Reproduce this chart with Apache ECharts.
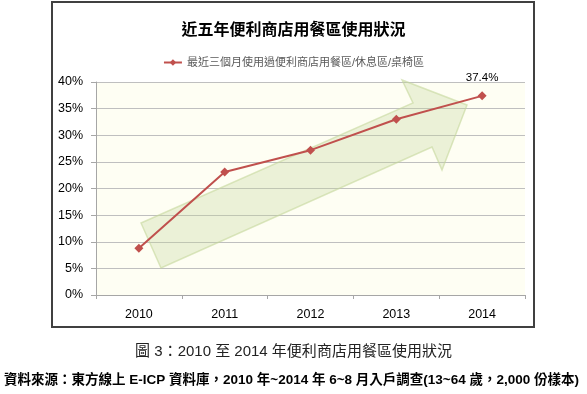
<!DOCTYPE html>
<html><head><meta charset="utf-8">
<script src="https://cdn.jsdelivr.net/npm/echarts@6/dist/echarts.min.js"></script>
<style>html,body{margin:0;padding:0;background:#fff}#c{width:587px;height:394px}</style>
</head><body><div id="c"></div>
<script>
const categories = ['2010','2011','2012','2013','2014'];
const seriesName = '最近三個月使用過便利商店用餐區/休息區/桌椅區';
const values = [8.8, 23.1, 27.2, 33.0, 37.4];
const yTicks = [0, 5, 10, 15, 20, 25, 30, 35, 40];
const chartTitle = '近五年便利商店用餐區使用狀況';
const caption = '圖 3：2010 至 2014 年便利商店用餐區使用狀況';
const sourceText = '資料來源：東方線上 E-ICP 資料庫，2010 年~2014 年 6~8 月入戶調查(13~64 歲，2,000 份樣本)';

const cjk = '"Liberation Sans", "Noto Sans CJK TC", sans-serif';
const chart = echarts.init(document.getElementById('c'), null, {renderer:'canvas'});
const lastIdx = values.length - 1;
chart.setOption({
  animation:false,
  backgroundColor:'#fff',
  title:{text:chartTitle,left:'center',top:18,textStyle:{fontFamily:cjk,fontSize:16,fontWeight:'bold',color:'#000'}},
  legend:{top:52,left:'center',itemWidth:18,itemHeight:8,itemGap:4,textStyle:{fontFamily:cjk,fontSize:11,color:'#595959'},data:[seriesName]},
  grid:{left:96,right:62,top:82,bottom:99,show:true,backgroundColor:'#FEFEF3',borderWidth:0},
  xAxis:{type:'category',data:categories,boundaryGap:true,
    axisLine:{lineStyle:{color:'#A6A6A6'}},
    axisTick:{show:true,length:4,lineStyle:{color:'#A6A6A6'}},
    axisLabel:{fontFamily:cjk,fontSize:12.5,color:'#000',margin:13}},
  yAxis:{type:'value',min:yTicks[0],max:yTicks[yTicks.length-1],interval:5,
    axisLine:{show:true,lineStyle:{color:'#A6A6A6'}},
    axisTick:{show:true,length:5,lineStyle:{color:'#A6A6A6'}},
    splitLine:{lineStyle:{color:'#BFBFBF'}},
    axisLabel:{fontFamily:cjk,fontSize:12.5,color:'#000',margin:13,formatter:v=>v+'%'}},
  graphic:[
    {type:'rect',shape:{x:52,y:2,width:482,height:325},style:{fill:'none',stroke:'#404040',lineWidth:2},z:-1},
    {type:'polygon',shape:{points:[[141,223],[413,103],[402,80],[467,105],[442,170],[432,147],[161,268]]},
      style:{fill:'rgba(196,215,155,0.32)',stroke:'rgba(196,215,155,0.6)',lineWidth:1.5},z:1},
    {type:'text',left:'center',top:344,style:{text:caption,font:'15px '+cjk,fill:'#222'}},
    {type:'text',left:4,top:374,style:{text:sourceText,font:'bold 13.5px '+cjk,fill:'#000'}}
  ],
  series:[{name:seriesName,type:'line',data:values.map((v,i)=>i===lastIdx?{value:v,label:{show:true,position:'top',distance:8,formatter:v+'%',fontFamily:cjk,fontSize:11.5,color:'#000'}}:v),
    symbol:'diamond',symbolSize:9,z:5,
    lineStyle:{color:'#C0504D',width:2},itemStyle:{color:'#C0504D'}}]
});
</script></body></html>
